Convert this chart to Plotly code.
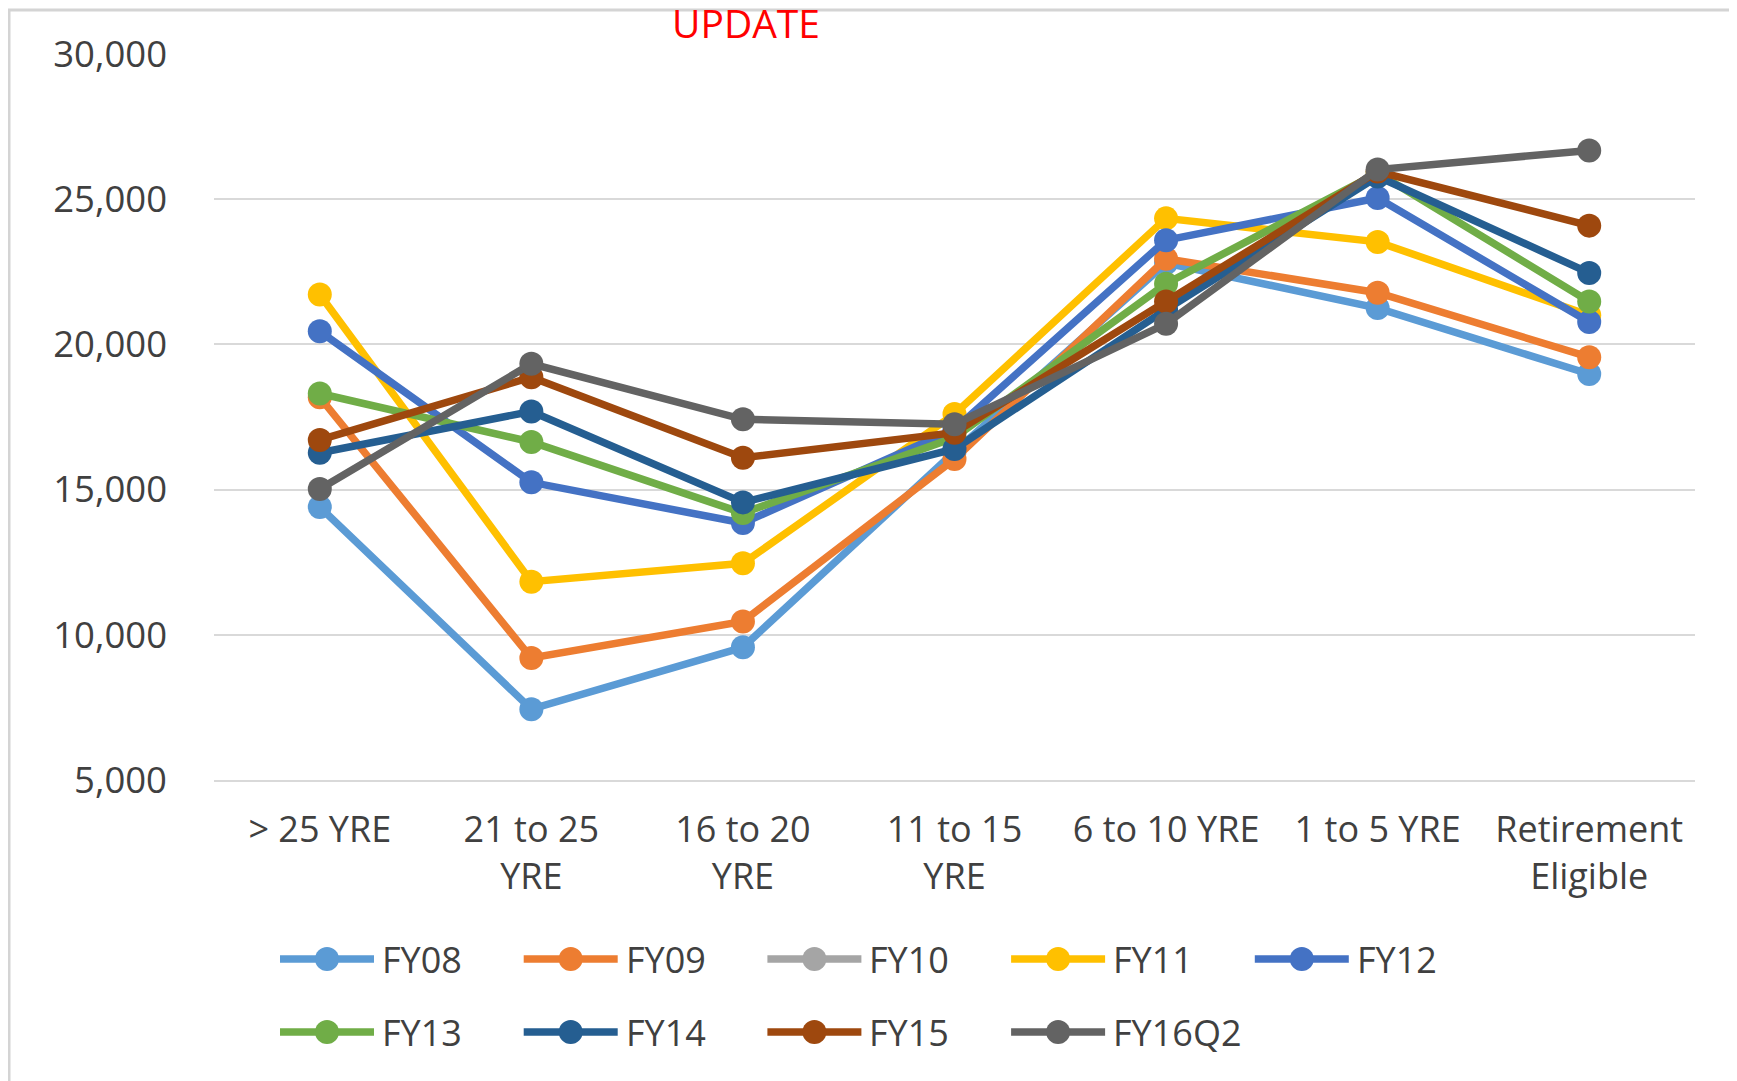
import plotly.graph_objects as go

categories = ["> 25 YRE", "21 to 25<br>YRE", "16 to 20<br>YRE", "11 to 15<br>YRE",
              "6 to 10 YRE", "1 to 5 YRE", "Retirement<br>Eligible"]

series_names = ["FY08", "FY09", "FY10", "FY11", "FY12", "FY13", "FY14", "FY15", "FY16Q2"]
series_colors = ["#5B9BD5", "#ED7D31", "#A5A5A5", "#FFC000", "#4472C4",
                 "#70AD47", "#255E91", "#9E480E", "#636363"]

fy08 = [14400, 7440, 9570, 16300, 22800, 21250, 18980]
fy09 = [18180, 9200, 10460, 16050, 22950, 21780, 19560]
fy10 = [None, None, None, None, None, None, None]
fy11 = [21720, 11830, 12460, 17600, 24340, 23530, 21000]
fy12 = [20450, 15250, 13850, 17080, 23590, 25040, 20770]
fy13 = [18310, 16640, 14190, 16790, 22090, 25900, 21480]
fy14 = [16270, 17690, 14560, 16400, 21200, 25780, 22460]
fy15 = [16710, 18870, 16100, 16960, 21480, 25950, 24090]
fy16q2 = [15020, 19330, 17420, 17250, 20710, 26020, 26680]

series_values = [fy08, fy09, fy10, fy11, fy12, fy13, fy14, fy15, fy16q2]

y_ticks = [5000, 10000, 15000, 20000, 25000, 30000]
y_ticktext = ["5,000", "10,000", "15,000", "20,000", "25,000", "30,000"]

W, H = 1737, 1081
OFF = 8  # page body margin
PL, PR, PT, PB = 214 - OFF, 1695 - OFF, 54 - OFF, 780 - OFF
FONT = "Open Sans"
TXT = "#404040"


def px_x(px):
    return (px - OFF - PL) / (PR - PL)


def px_y(py):
    return (PB - (py - OFF)) / (PB - PT)


fig = go.Figure()
for name, color, vals in zip(series_names, series_colors, series_values):
    fig.add_trace(go.Scatter(
        x=categories, y=vals, name=name, mode="lines+markers",
        line=dict(color=color, width=7.5),
        marker=dict(color=color, size=24),
        showlegend=False,
    ))

shapes = []
annotations = []

# custom legend (Excel style)
col_step = 243.7
rows_y = [959, 1032]
for i, (name, color) in enumerate(zip(series_names, series_colors)):
    r, c = divmod(i, 5)
    x0 = 280 + c * col_step
    yy = rows_y[r]
    shapes.append(dict(type="line", xref="paper", yref="paper",
                       x0=px_x(x0), x1=px_x(x0 + 94), y0=px_y(yy), y1=px_y(yy),
                       line=dict(color=color, width=7.5)))
    cx = x0 + 47
    rad = 12
    shapes.append(dict(type="circle", xref="paper", yref="paper",
                       x0=px_x(cx - rad), x1=px_x(cx + rad),
                       y0=px_y(yy + rad), y1=px_y(yy - rad),
                       fillcolor=color, line=dict(color=color, width=0)))
    annotations.append(dict(text=name, xref="paper", yref="paper",
                            x=px_x(x0 + 100), y=px_y(yy), xanchor="left", yanchor="middle",
                            showarrow=False, font=dict(family=FONT, size=36, color=TXT)))

# outer chart frame
shapes.append(dict(type="rect", xref="paper", yref="paper",
                   x0=px_x(9), x1=px_x(W + 20), y0=px_y(H + 20), y1=px_y(10),
                   line=dict(color="#D4D4D4", width=3), fillcolor="rgba(0,0,0,0)", layer="below"))

annotations.append(dict(text="UPDATE", xref="paper", yref="paper",
                        x=px_x(746), y=px_y(22), xanchor="center", yanchor="middle",
                        showarrow=False, font=dict(family=FONT, size=39, color="#FF0000")))

fig.update_layout(
    width=W, height=H,
    margin=dict(l=PL, r=W - PR, t=PT, b=H - PB),
    paper_bgcolor="white", plot_bgcolor="white",
    font=dict(family=FONT, size=36, color=TXT),
    shapes=shapes, annotations=annotations,
    showlegend=False,
)
fig.update_xaxes(
    type="category", range=[-0.5, 6.5],
    showgrid=False, showline=True, linecolor="#D9D9D9", linewidth=2,
    ticks="", tickfont=dict(family=FONT, size=36, color=TXT),
    ticklabelstandoff=17, zeroline=False,
)
fig.update_yaxes(
    range=[5000, 30000], tickvals=y_ticks, ticktext=y_ticktext,
    showgrid=True, gridcolor="#D9D9D9", gridwidth=2,
    showline=False, zeroline=False, ticks="",
    tickfont=dict(family=FONT, size=36.5, color=TXT),
    ticklabelstandoff=46,
)

fig.write_html("out.html")
